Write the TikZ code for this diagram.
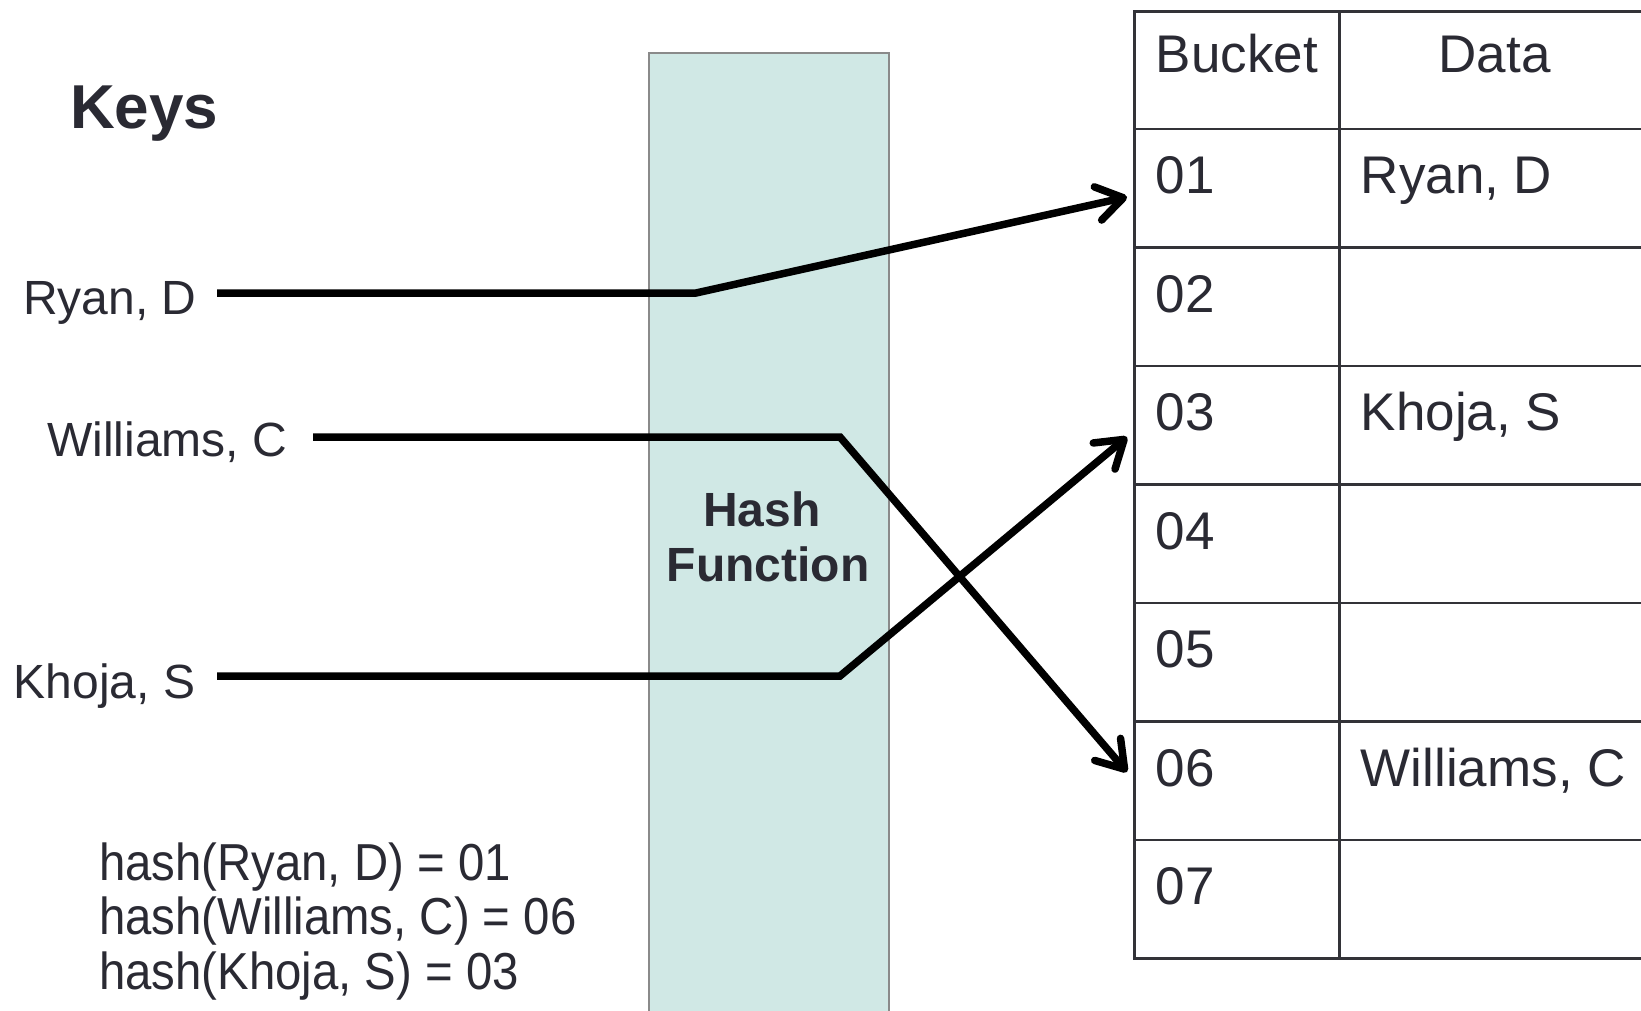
\documentclass[tikz,border=0pt]{standalone}
\usepackage{fontspec}
\setmainfont{Liberation Sans}
\usetikzlibrary{arrows.meta}
\definecolor{txt}{HTML}{2A2A33}
\definecolor{hashfill}{HTML}{D0E8E5}
\definecolor{hashedge}{HTML}{8A8A8A}
\definecolor{gridc}{HTML}{333338}
\begin{document}
\begin{tikzpicture}[x=1pt,y=-1pt,
  keylbl/.style={anchor=base west, inner sep=0pt, text=txt, font=\fontsize{48}{56}\selectfont},
  celltxt/.style={anchor=base west, inner sep=0pt, text=txt, font=\fontsize{53}{60}\selectfont},
  cellbox/.style={draw=gridc, line width=2.5pt, inner sep=0pt, anchor=north west},
  bucketcell/.style={cellbox, minimum width=205pt, minimum height=118.5pt},
  datacell/.style={cellbox, minimum width=330pt, minimum height=118.5pt},
  hashlbl/.style={anchor=base, inner sep=0pt, text=txt, font=\fontsize{48}{55}\selectfont\bfseries},
  formula/.style={anchor=base west, inner sep=0pt, text=txt, font=\fontsize{52}{58}\selectfont},
  link/.style={line width=7.5pt, draw=black, -{Straight Barb[length=26pt,width=34pt,line cap=round,line join=round]}},
  ]
\useasboundingbox (0,0) rectangle (1641,1011);
\clip (0,0) rectangle (1641,1011);
\fill[white] (0,0) rectangle (1641,1011);

% hash function band
\draw[draw=hashedge, fill=hashfill, line width=2pt] (649,53.4) rectangle (889,1040);
\node[hashlbl] (hashA) at (762,526) {Hash};
\node[hashlbl] (hashB) at (768,581) {Function};

% keys
\node[anchor=base west, inner sep=0pt, text=txt, font=\fontsize{62}{70}\selectfont\bfseries] (keys) at (70,129) {Keys};
\node[keylbl] (kr) at (23,314) {Ryan, D};
\node[keylbl] (kw) at (47,456) {Williams, C};
\node[keylbl] (kk) at (13.6,698) {Khoja, S};

% formulas
\node[formula] (f1) at (99,880) {\scalebox{0.91}[1]{hash(Ryan, D) = 01}};
\node[formula] (f2) at (99,934) {\scalebox{0.91}[1]{hash(Williams, C) = 06}};
\node[formula] (f3) at (99,989) {\scalebox{0.91}[1]{hash(Khoja, S) = 03}};

% table header
\node[cellbox, minimum width=205pt, minimum height=117.2pt] (hb) at (1133,10.5) {};
\node[cellbox, minimum width=330pt, minimum height=117.2pt] (hd) at (1338,10.5) {};
\node[celltxt] (hbt) at (1155.5,73) {Bucket};
\node[anchor=base, inner sep=0pt, text=txt, font=\fontsize{53}{60}\selectfont] (hdt) at (1494.6,73) {Data};

% table rows
\foreach \i/\d in {1/{Ryan, D},2/{},3/{Khoja, S},4/{},5/{},6/{Williams, C},7/{}}{
  \pgfmathsetmacro{\ytop}{127.7+(\i-1)*118.5}
  \node[bucketcell] (b\i) at (1133,\ytop) {};
  \node[datacell] (d\i) at (1338,\ytop) {};
  \node[celltxt] (bt\i) at (1155.5,\ytop+66) {0\i};
  \node[celltxt] (dt\i) at (1360.6,\ytop+66) {\d};
}

% connectors
\coordinate (sr) at (217,293);
\coordinate (cr) at (696,293);
\coordinate (tr) at (1127,197);
\coordinate (sw) at (313,437);
\coordinate (cw) at (840,437);
\coordinate (tw) at (1127,772);
\coordinate (sk) at (217,676);
\coordinate (ck) at (840,676);
\coordinate (tk) at (1127,437);
\draw[link] (sr) -- (cr) -- (tr);
\draw[link] (sw) -- (cw) -- (tw);
\draw[link] (sk) -- (ck) -- (tk);
\end{tikzpicture}
\end{document}
